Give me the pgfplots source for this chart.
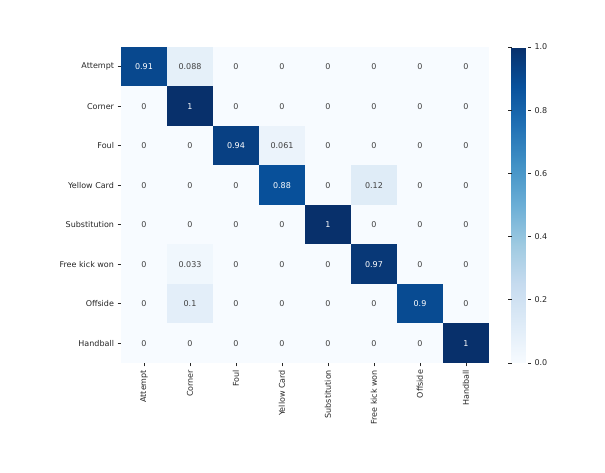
\documentclass[border=0pt]{standalone}
\usepackage{fontspec}
\setmainfont{DejaVu Sans}
\usepackage{pgfplots}
\usepackage{pgfplotstable}
\pgfplotsset{compat=1.18}

\definecolor{labgray}{HTML}{262626}
\definecolor{anngray}{HTML}{404040}
\pgfplotsset{colormap={blues}{rgb255=(247,251,255) rgb255=(222,235,247) rgb255=(198,219,239) rgb255=(158,202,225) rgb255=(107,174,214) rgb255=(66,146,198) rgb255=(33,113,181) rgb255=(8,81,156) rgb255=(8,48,107)}}

% confusion matrix, row by row (y = true class, x = predicted class)
\pgfplotstableread{
x y c lbl
0 0 0.91 0.91
1 0 0.088 0.088
2 0 0 0
3 0 0 0
4 0 0 0
5 0 0 0
6 0 0 0
7 0 0 0
0 1 0 0
1 1 1 1
2 1 0 0
3 1 0 0
4 1 0 0
5 1 0 0
6 1 0 0
7 1 0 0
0 2 0 0
1 2 0 0
2 2 0.94 0.94
3 2 0.061 0.061
4 2 0 0
5 2 0 0
6 2 0 0
7 2 0 0
0 3 0 0
1 3 0 0
2 3 0 0
3 3 0.88 0.88
4 3 0 0
5 3 0.12 0.12
6 3 0 0
7 3 0 0
0 4 0 0
1 4 0 0
2 4 0 0
3 4 0 0
4 4 1 1
5 4 0 0
6 4 0 0
7 4 0 0
0 5 0 0
1 5 0.033 0.033
2 5 0 0
3 5 0 0
4 5 0 0
5 5 0.97 0.97
6 5 0 0
7 5 0 0
0 6 0 0
1 6 0.1 0.1
2 6 0 0
3 6 0 0
4 6 0 0
5 6 0 0
6 6 0.9 0.9
7 6 0 0
0 7 0 0
1 7 0 0
2 7 0 0
3 7 0 0
4 7 0 0
5 7 0 0
6 7 0 0
7 7 1 1
}\cm

\begin{document}
\begin{tikzpicture}
\path[use as bounding box] (0,0) rectangle (605pt,473pt);
\begin{axis}[
    at={(121pt,110pt)}, anchor=south west,
    scale only axis, width=368pt, height=316pt,
    colormap name=blues,
    point meta min=0, point meta max=1,
    xmin=-0.5, xmax=7.5, ymin=-0.5, ymax=7.5,
    y dir=reverse,
    axis line style={draw=none},
    xtick={0,...,7}, ytick={0,...,7},
    xticklabels={Attempt,Corner,Foul,Yellow Card,Substitution,Free kick won,Offside,Handball},
    yticklabels={Attempt,Corner,Foul,Yellow Card,Substitution,Free kick won,Offside,Handball},
    xtick pos=bottom, ytick pos=left,
    tick align=outside,
    major tick length=3.5pt,
    tick style={labgray, line width=0.6pt},
    x tick label style={rotate=90, anchor=east, font=\fontsize{8}{9.6}\selectfont, text=labgray},
    y tick label style={font=\fontsize{8}{9.6}\selectfont, text=labgray},
    colorbar,
    colorbar style={
        at={(parent axis.north east)}, anchor=north west, xshift=14pt,
        width=16pt,
        axis line style={draw=none},
        ytick={0,0.2,...,1},
        yticklabel pos=right,
        tick align=outside,
        major tick length=3.5pt,
        tick style={labgray, line width=0.6pt},
        /pgf/number format/fixed,
        /pgf/number format/fixed zerofill,
        /pgf/number format/precision=1,
        /pgf/number format/assume math mode=true,
        y tick label style={font=\fontsize{8}{9.6}\selectfont, text=labgray},
    },
]
\addplot[matrix plot*, mesh/cols=8, point meta=explicit] table[x=x, y=y, meta=c] {\cm};
% annotations on light cells
\addplot[draw=none, mark=none, nodes near coords, point meta=explicit symbolic,
    nodes near coords style={anchor=center, font=\fontsize{8}{9.6}\selectfont, text=anngray},
    restrict expr to domain={\thisrow{c}}{0:0.5}]
    table[x=x, y=y, meta=lbl] {\cm};
% annotations on dark cells
\addplot[draw=none, mark=none, nodes near coords, point meta=explicit symbolic,
    nodes near coords style={anchor=center, font=\fontsize{8}{9.6}\selectfont, text=white},
    restrict expr to domain={\thisrow{c}}{0.5:1.01}]
    table[x=x, y=y, meta=lbl] {\cm};
\end{axis}
\end{tikzpicture}
\end{document}
